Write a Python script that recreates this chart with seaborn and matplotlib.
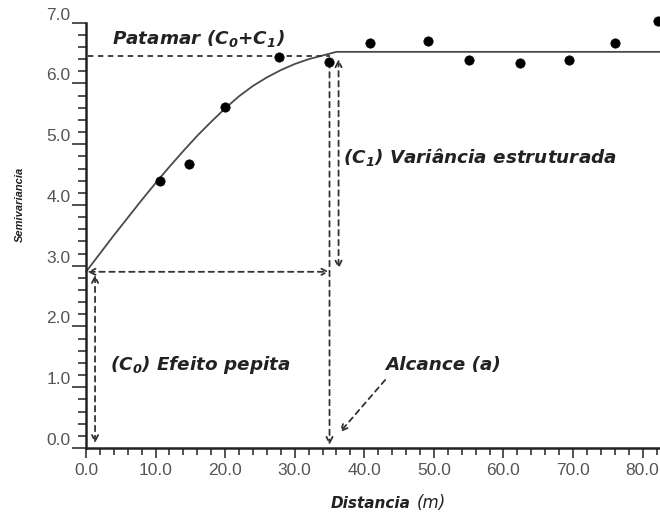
import matplotlib
matplotlib.use("Agg")
import matplotlib.pyplot as plt
import seaborn as sns
import pandas as pd

# ---- data ----
lag_distance = [10.6, 14.8, 20.0, 27.8, 34.9, 40.8, 49.1, 55.0, 62.4, 69.4, 76.1, 82.2]
semivariance = [4.39, 4.68, 5.61, 6.44, 6.36, 6.67, 6.70, 6.38, 6.34, 6.39, 6.67, 7.02]

model_distance = [0, 2, 4, 6, 8, 10, 12, 14, 16, 18, 20, 22, 24, 26, 28, 30, 32, 34, 36, 82.5]
model_gamma = [2.90, 3.20, 3.50, 3.79, 4.08, 4.36, 4.63, 4.89, 5.14, 5.37, 5.59, 5.79,
               5.96, 6.10, 6.22, 6.32, 6.40, 6.46, 6.52, 6.52]

x_ticks = [0, 10, 20, 30, 40, 50, 60, 70, 80]
y_ticks = [0, 1, 2, 3, 4, 5, 6, 7]

nugget = 2.9      # C0
sill = 6.45       # C0 + C1
range_a = 35.0    # a

sns.set_style("ticks")
plt.rcParams["font.family"] = ["Liberation Sans", "DejaVu Sans"]
plt.rcParams["mathtext.default"] = "regular"

fig = plt.figure(figsize=(6.6, 5.16), dpi=100)
ax = fig.add_axes([86 / 660, 68 / 516, 574 / 660, 425.3 / 516])

pts = pd.DataFrame({"h": lag_distance, "g": semivariance})
mdl = pd.DataFrame({"h": model_distance, "g": model_gamma})

sns.lineplot(data=mdl, x="h", y="g", ax=ax, color="#4a4a4a", lw=1.3, clip_on=False)
sns.scatterplot(data=pts, x="h", y="g", ax=ax, color="black", s=45, edgecolor="black",
                linewidth=0.5, clip_on=False, zorder=5)

ax.set_xlim(0, 82.5)
ax.set_ylim(0, 7.0)
ax.set_xticks(x_ticks)
ax.set_yticks(y_ticks)
ax.set_xticklabels([f"{v:.1f}" for v in x_ticks])
ax.set_yticklabels([f"{v:.1f}" for v in y_ticks])
ax.set_xticks([v for v in range(0, 83, 2) if v % 10], minor=True)
ax.set_yticks([i * 0.2 for i in range(36) if i % 5], minor=True)
ax.set_xlabel("")
ax.set_ylabel("")
sns.despine(ax=ax)
for s in ("left", "bottom"):
    ax.spines[s].set_linewidth(1.8)
    ax.spines[s].set_color("#222")
ax.tick_params(axis="y", which="major", length=10, width=1.2, color="#333",
               labelsize=12.5, labelcolor="#555", pad=1)
ax.tick_params(axis="y", which="minor", length=6, width=1.2, color="#333")
ax.tick_params(axis="x", which="major", length=7, width=1.2, color="#333",
               labelsize=12.5, labelcolor="#555", pad=4)
ax.tick_params(axis="x", which="minor", length=5, width=1.2, color="#333")
for lab in ax.get_yticklabels():
    lab.set_verticalalignment("bottom")

dash = (0, (3, 2.5))
acol = "#333333"

def arrow(x0, y0, x1, y1, style):
    ax.annotate("", xy=(x1, y1), xytext=(x0, y0),
                arrowprops=dict(arrowstyle=style, linestyle=dash, lw=1.3, color=acol,
                                mutation_scale=11, shrinkA=0, shrinkB=0),
                annotation_clip=False)

# sill dashed line
ax.plot([0.3, range_a], [sill, sill], linestyle=dash, color=acol, lw=1.3)
# nugget horizontal double arrow
arrow(0.2, nugget, range_a, nugget, "<->")
# nugget vertical double arrow
arrow(1.3, nugget - 0.05, 1.3, 0.08, "<->")
# range vertical arrow
arrow(range_a, sill - 0.1, range_a, 0.05, "->")
# structured variance double arrow
arrow(range_a + 1.3, sill - 0.05, range_a + 1.3, nugget + 0.05, "<->")
# alcance diagonal arrow
arrow(43.0, 1.12, range_a + 1.5, 0.26, "->")

tkw = dict(fontsize=13.2, fontweight="bold", style="italic", color="#222",
           family=["DejaVu Sans"])
ax.text(3.7, 6.74, "Patamar (C$_0$+C$_1$)", va="center", ha="left", **tkw)
ax.text(36.9, 4.79, "(C$_1$) Variância estruturada", va="center", ha="left", **tkw)
ax.text(3.4, 1.37, "(C$_0$) Efeito pepita", va="center", ha="left", **tkw)
ax.text(43.0, 1.37, "Alcance (a)", va="center", ha="left", **tkw)

fig.text(411 / 660, 1 - 503 / 516, "Distancia", ha="right", va="center",
         fontsize=11, fontweight="bold", style="italic", color="#222",
         family=["DejaVu Sans"])
fig.text(417 / 660, 1 - 503 / 516, "(m)", ha="left", va="center",
         fontsize=12, style="italic", color="#222", family=["DejaVu Sans"])
fig.text(20 / 660, 1 - 204 / 516, "Semivariancia", ha="center", va="center", rotation=90,
         fontsize=8, fontweight="bold", style="italic", color="#222")

fig.savefig("out.png", dpi=100)
